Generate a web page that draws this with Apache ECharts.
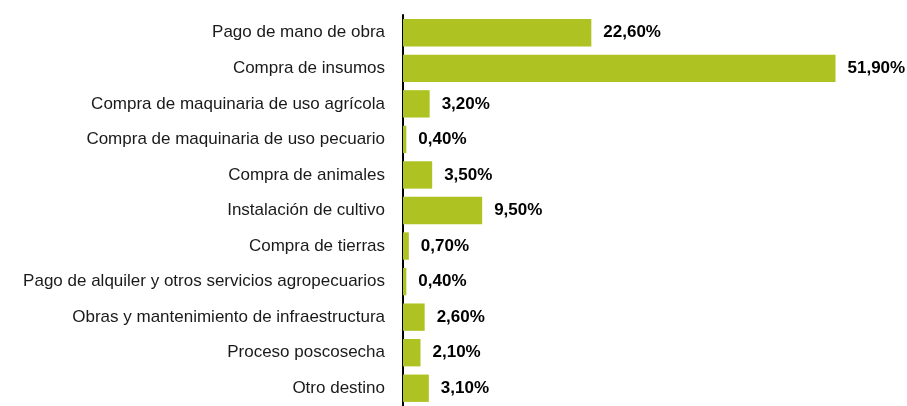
<!DOCTYPE html>
<html>
<head>
<meta charset="utf-8">
<script src="https://cdn.jsdelivr.net/npm/echarts@6/dist/echarts.min.js"></script>
<style>
  html, body { margin: 0; padding: 0; background: #fff; }
  #chart { width: 907px; height: 406px; }
</style>
</head>
<body>
<div id="chart"></div>
<script>
  // categories, top to bottom
  const categories = [
    'Pago de mano de obra',
    'Compra de insumos',
    'Compra de maquinaria de uso agrícola',
    'Compra de maquinaria de uso pecuario',
    'Compra de animales',
    'Instalación de cultivo',
    'Compra de tierras',
    'Pago de alquiler y otros servicios agropecuarios',
    'Obras y mantenimiento de infraestructura',
    'Proceso poscosecha',
    'Otro destino'
  ]
  // percentages
  const values = [22.6, 51.9, 3.2, 0.4, 3.5, 9.5, 0.7, 0.4, 2.6, 2.1, 3.1]

  const myChart = echarts.init(document.getElementById('chart'))

  const option = {
    animation: false,
    grid: {
      left: 403,
      top: 15,
      width: 500,
      height: 400
    },
    xAxis: {
      type: 'value',
      min: 0,
      max: 60,
      show: false
    },
    yAxis: {
      type: 'category',
      inverse: true,
      data: categories,
      axisLine: { show: true, lineStyle: { color: '#000', width: 2 } },
      axisTick: { show: false },
      axisLabel: {
        margin: 18,
        color: '#1a1a1a',
        fontFamily: 'Liberation Sans Narrow, Liberation Sans, Arial, sans-serif',
        fontSize: 17
      }
    },
    series: [
      {
        type: 'bar',
        data: values,
        barCategoryGap: '23%',
        itemStyle: { color: '#AEC322' },
        label: {
          show: true,
          position: 'right',
          distance: 12,
          color: '#000',
          fontFamily: 'Liberation Sans Narrow, Liberation Sans, Arial, sans-serif',
          fontWeight: 'bold',
          fontSize: 17,
          formatter: (p) => p.value.toFixed(2).replace('.', ',') + '%'
        }
      }
    ]
  }

  myChart.setOption(option)
</script>
</body>
</html>
